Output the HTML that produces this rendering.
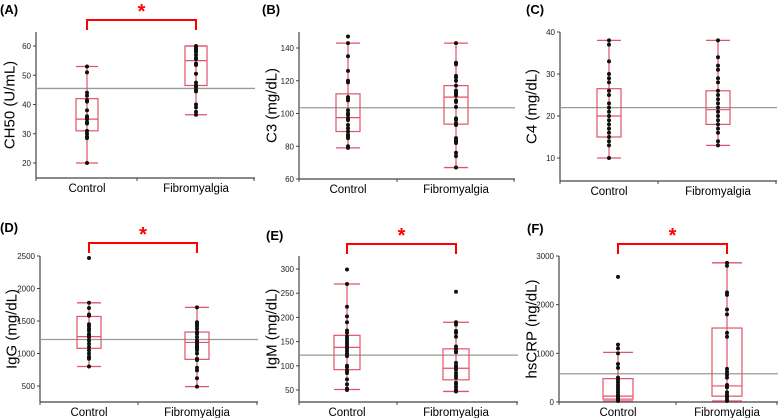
<!DOCTYPE html>
<html><head><meta charset="utf-8"><style>
html,body{margin:0;padding:0;background:#fff;}
svg{display:block;font-family:"Liberation Sans",Arial,sans-serif;}
</style></head><body>
<svg id="chart" width="778" height="418" viewBox="0 0 778 418"></svg>
<script>
const categories = ["Control","Fibromyalgia"];
// Panel A CH50
const aCtrl = [53,51,44,43,41.5,41,38,36,35.5,35,34,33.5,31,30,29,28.5,20];
const aFib = [60,59.5,59,58.5,58,57,56,55.5,54,53.5,50.5,47.5,46.5,46,45,44.5,40,39,37.5,36.5];
const aBoxCtrl = [20,31,35,42,53];
const aBoxFib = [36.5,46.5,55,60,60];
const aTicks = [20,30,40,50,60];
const aRef = 45.5;
// Panel B C3
const bCtrl = [147,143,135,126,120,119,110,109,108,102,100,99,97,96,93,91,89,87,86,85,80,79];
const bFib = [143,131,130,123,122,120,117,114,113,112,111,108,107,104,97,96,94,93,85,84,83,82,76,74,67];
const bBoxCtrl = [79,89,97.5,112,143];
const bBoxFib = [67,93.5,110,117,143];
const bTicks = [60,80,100,120,140];
const bRef = 103.5;
// Panel C C4
const cCtrl = [38,37,33,30,29,28,26,25,23,22,21,20,19,18,17,16,15,14,13,10];
const cFib = [38,34,32,31,29,28,26,25,24,23,22,21,20,19,18,17,16,14,13];
const cBoxCtrl = [10,15,20,26.5,38];
const cBoxFib = [13,18,21.5,26,38];
const cTicks = [10,20,30,40];
const cRef = 22;
// Panel D IgG
const dCtrl = [2470,1780,1700,1600,1580,1450,1420,1380,1350,1300,1280,1250,1200,1150,1100,1050,1000,950,920,800];
const dFib = [1710,1480,1450,1420,1380,1330,1300,1250,1200,1180,1150,1120,1100,1080,1050,1000,920,900,780,740,620,490];
const dBoxCtrl = [800,1080,1260,1570,1780];
const dBoxFib = [490,910,1170,1330,1710];
const dTicks = [500,1000,1500,2000,2500];
const dRef = 1215;
// Panel E IgM
const eCtrl = [299,269,222,202,190,173,168,160,155,150,145,140,135,130,125,120,100,97,90,85,72,62,53,50];
const eFib = [253,190,185,172,168,160,140,135,130,128,106,100,97,92,85,80,75,65,62,56,50,47];
const eBoxCtrl = [51,92,138,163,269];
const eBoxFib = [47,71,95,135,190];
const eTicks = [50,100,150,200,250,300];
const eRef = 122;
// Panel F hsCRP
const fCtrl = [2570,1180,1100,1000,780,700,500,450,400,350,300,250,200,150,120,100,80,60,40,20];
const fFib = [2860,2800,2250,2200,1900,1800,1420,1340,680,620,560,500,350,300,200,150,100,50,20];
const fBoxCtrl = [20,60,120,480,1020];
const fBoxFib = [20,120,330,1520,2860];
const fTicks = [0,1000,2000,3000];
const fRef = 580;

const panels = [
 {id:"a",label:"(A)",lx:0,ly:14,title:"CH50 (U/mL)",tx:10,ax:36,top:32,bot:178,end:255,mid:137,v1:60,p1:46,v0:20,p0:163,c:[87,196],hw:11,ctrl:aCtrl,fib:aFib,bc:aBoxCtrl,bf:aBoxFib,ticks:aTicks,ref:aRef,sig:true,by:20},
 {id:"b",label:"(B)",lx:262,ly:14,title:"C3 (mg/dL)",tx:272,ax:299,top:32,bot:179,end:515,mid:397,v1:140,p1:48,v0:60,p0:179,c:[348,456],hw:12,ctrl:bCtrl,fib:bFib,bc:bBoxCtrl,bf:bBoxFib,ticks:bTicks,ref:bRef,sig:false},
 {id:"c",label:"(C)",lx:526,ly:14,title:"C4 (mg/dL)",tx:532,ax:560,top:32,bot:181,end:777,mid:658,v1:40,p1:32,v0:10,p0:158,c:[609,718],hw:12,ctrl:cCtrl,fib:cFib,bc:cBoxCtrl,bf:cBoxFib,ticks:cTicks,ref:cRef,sig:false},
 {id:"d",label:"(D)",lx:0,ly:232,title:"IgG (mg/dL)",tx:12,ax:40,top:256,bot:402,end:258,mid:138,v1:2500,p1:256,v0:500,p0:386,c:[89,197],hw:12,ctrl:dCtrl,fib:dFib,bc:dBoxCtrl,bf:dBoxFib,ticks:dTicks,ref:dRef,sig:true,by:243},
 {id:"e",label:"(E)",lx:266,ly:240,title:"IgM (mg/dL)",tx:272,ax:299,top:256,bot:402,end:518,mid:397,v1:300,p1:269,v0:50,p0:390,c:[347,456],hw:13,ctrl:eCtrl,fib:eFib,bc:eBoxCtrl,bf:eBoxFib,ticks:eTicks,ref:eRef,sig:true,by:244},
 {id:"f",label:"(F)",lx:527,ly:233,title:"hsCRP (ng/dL)",tx:532,ax:559,top:256,bot:402,end:778,mid:676,v1:3000,p1:256,v0:0,p0:402,c:[618,727],hw:15,ctrl:fCtrl,fib:fFib,bc:fBoxCtrl,bf:fBoxFib,ticks:fTicks,ref:fRef,sig:true,by:244}
];
const NS="http://www.w3.org/2000/svg";
const svg=document.getElementById("chart");
function mk(tag,attrs,parent,text){const e=document.createElementNS(NS,tag);for(const k in attrs)e.setAttribute(k,attrs[k]);if(text!==undefined)e.textContent=text;parent.appendChild(e);return e;}
const BOX="#e0536a";
panels.forEach(p=>{
 const g=mk("g",{},svg);
 
 
 const y=v=>p.p0+(v-p.v0)*(p.p1-p.p0)/(p.v1-p.v0);
 const lab=mk("text",{x:p.lx,y:p.ly,"font-size":13,"font-weight":"bold",fill:"#000"},g,p.label);
 
 
 const cy=(p.top+p.bot)/2;
 const yt=mk("text",{x:p.tx,y:cy,"font-size":15,fill:"#000","text-anchor":"middle",transform:`rotate(-90 ${p.tx} ${cy})`,"dominant-baseline":"central"},g,p.title);
 
 
 const ya=mk("line",{x1:p.ax,y1:p.top,x2:p.ax,y2:p.bot,stroke:"#444","stroke-width":1.2},g);
 
 
 const xa=mk("line",{x1:p.ax,y1:p.bot,x2:p.end,y2:p.bot,stroke:"#444","stroke-width":1.2},g);
 
 
 [p.ax,p.mid,p.end-1].forEach(x=>mk("line",{x1:x,y1:p.bot,x2:x,y2:p.bot+3,stroke:"#444"},g));
 p.ticks.forEach(t=>{
  mk("line",{x1:p.ax-3,y1:y(t),x2:p.ax,y2:y(t),stroke:"#444"},g);
  const tl=mk("text",{x:p.ax-5,y:y(t)+3,"font-size":8,"text-anchor":"end",fill:"#222"},g,t);
  
  
 });
 categories.forEach((c,i)=>{
  const cl=mk("text",{x:p.c[i],y:p.bot+14,"font-size":11.5,"text-anchor":"middle",fill:"#000"},g,c);
  
  
 });
 const rl=mk("line",{x1:p.ax,y1:y(p.ref),x2:p.end,y2:y(p.ref),stroke:"#999","stroke-width":1.3},g);
 
 
 [[p.bc,p.ctrl],[p.bf,p.fib]].forEach((pair,i)=>{
  const b=pair[0],cx=p.c[i],hw=p.hw;
  const bg=mk("g",{},g);
  
  
  mk("line",{x1:cx,y1:y(b[0]),x2:cx,y2:y(b[4]),stroke:BOX,"stroke-width":1.2},bg);
  mk("line",{x1:cx-hw,y1:y(b[0]),x2:cx+hw,y2:y(b[0]),stroke:BOX,"stroke-width":1.3},bg);
  mk("line",{x1:cx-hw,y1:y(b[4]),x2:cx+hw,y2:y(b[4]),stroke:BOX,"stroke-width":1.3},bg);
  mk("rect",{x:cx-hw,y:y(b[3]),width:2*hw,height:y(b[1])-y(b[3]),fill:"none",stroke:BOX,"stroke-width":1.2},bg);
  mk("line",{x1:cx-hw,y1:y(b[2]),x2:cx+hw,y2:y(b[2]),stroke:BOX,"stroke-width":1.2},bg);
  pair[1].forEach(v=>{
   const d=mk("circle",{cx:cx,cy:y(v),r:2,fill:"#111"},bg);
   
   
  });
 });
 if(p.sig){
  const sg=mk("g",{},g);
  
  
  mk("polyline",{points:`${p.c[0]},${p.by+10} ${p.c[0]},${p.by} ${p.c[1]},${p.by} ${p.c[1]},${p.by+10}`,fill:"none",stroke:"#f00","stroke-width":2},sg);
  mk("text",{x:(p.c[0]+p.c[1])/2,y:p.by-2,"font-size":20,"font-weight":"bold","text-anchor":"middle",fill:"#f00"},sg,"*");
 }
});
</script>
</body></html>
